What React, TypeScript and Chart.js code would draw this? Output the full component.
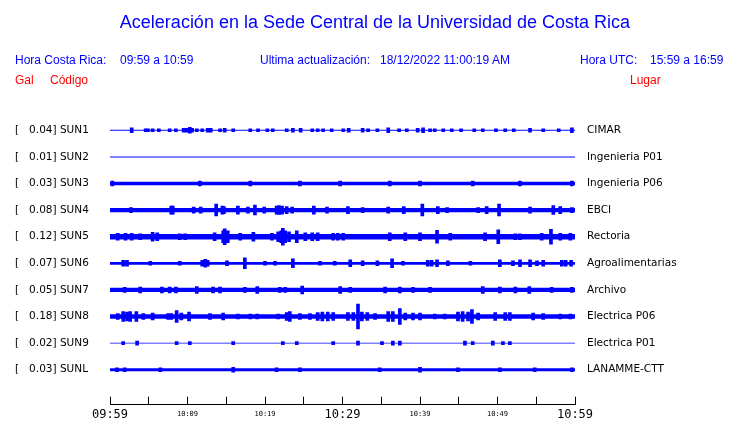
import React, { useEffect, useRef } from "react";
import { Chart, registerables } from "chart.js";

Chart.register(...registerables);

// ---------- data ----------
const codes = ["SUN1", "SUN2", "SUN3", "SUN4", "SUN5", "SUN6", "SUN7", "SUN8", "SUN9", "SUNL"];
const galMax = [0.04, 0.01, 0.03, 0.08, 0.12, 0.07, 0.05, 0.18, 0.02, 0.03];
const places = [
  "CIMAR", "Ingenieria P01", "Ingenieria P06", "EBCI", "Rectoria",
  "Agroalimentarias", "Archivo", "Electrica P06", "Electrica P01", "LANAMME-CTT",
];
const timeLabels = ["09:59", "10:09", "10:19", "10:29", "10:39", "10:49", "10:59"];

// background noise half-amplitude of each trace (display units)
const noiseLevel = [0.5, 0.5, 1.8, 2.2, 2.8, 1.4, 2.1, 2.3, 0.5, 1.5];

// bursts: [minute after 09:59, half-amplitude]
const sun1Bursts = [
  [2.8, 2.5], [4.6, 1.5], [4.9, 1.5], [5.5, 1.5], [6.3, 1.5], [7.7, 1.5], [8.5, 1.5], [9.5, 2],
  [9.9, 2], [10.3, 3], [10.6, 2], [11.2, 1.5], [11.9, 1.5], [12.6, 2], [13.0, 2], [14.2, 1.5],
  [14.8, 2], [15.9, 1.5], [18.1, 1.5], [19.1, 1.5], [20.3, 1.5], [21.0, 1.5], [22.8, 1.5],
  [23.6, 2], [24.6, 2], [26.1, 1.5], [26.8, 1.5], [27.5, 1.5], [28.6, 1.5], [30.1, 1.5],
  [30.8, 2], [32.6, 2], [33.3, 1.5], [34.5, 1.5], [35.9, 2.5], [37.3, 1.5], [38.3, 1.5],
  [39.7, 2], [40.4, 2.5], [41.3, 1.5], [41.9, 1.5], [43.0, 1.5], [44.1, 1.5], [45.3, 1.5],
  [47.0, 1.5], [48.1, 1.5], [49.8, 1.5], [51.0, 1.5], [52.1, 1.5], [54.2, 2], [55.9, 1.5],
  [57.9, 1.5], [59.6, 2.5],
];
const sun2Bursts: number[][] = [];
const sun3Bursts = [
  [0.3, 2.5], [11.6, 2.5], [18.1, 2.5], [24.5, 2.5], [29.7, 2.5], [36.1, 2.5], [40.0, 2.5],
  [46.8, 2.5], [52.9, 2.5], [59.6, 2.5],
];
const sun4Bursts = [
  [2.7, 2.5], [7.9, 4], [8.1, 4], [10.8, 3], [11.7, 3], [13.7, 6], [14.5, 4], [14.7, 3.5],
  [16.5, 4], [17.8, 3], [18.7, 5], [19.9, 3], [21.5, 4], [21.8, 4.5], [22.2, 4], [22.8, 3.5],
  [23.5, 3], [26.3, 4], [28.0, 3], [30.7, 3.5], [32.6, 2.5], [35.9, 3], [37.9, 3.5], [40.3, 6],
  [42.3, 3.5], [43.5, 2.5], [47.5, 2.5], [48.6, 3.5], [50.2, 6], [54.2, 3], [57.2, 4.5],
  [58.1, 3.5], [59.6, 2.5],
];
const sun5Bursts = [
  [1.0, 3.5], [2.0, 3.5], [2.8, 3.5], [3.9, 3], [5.5, 4.5], [6.1, 4], [9.0, 3], [9.7, 3],
  [13.5, 4], [14.6, 6], [14.8, 8], [15.2, 6], [16.8, 3.5], [18.5, 4.5], [20.9, 3.5], [21.7, 5],
  [22.1, 6], [22.3, 8.5], [22.6, 6], [23.1, 5], [24.1, 6], [25.2, 4], [26.1, 4], [26.8, 4],
  [28.8, 3.5], [29.4, 3.5], [30.1, 3.5], [36.1, 4], [38.1, 4], [40.0, 4], [42.2, 6.5],
  [43.9, 3.5], [48.4, 4], [50.1, 7], [52.3, 3], [52.9, 3], [55.7, 3.5], [56.9, 7.5],
  [58.1, 3.5], [59.4, 3.5],
];
const sun6Bursts = [
  [1.7, 3], [2.2, 3], [5.2, 2], [9.0, 2], [11.9, 3], [12.3, 4], [12.6, 3], [15.1, 2.5],
  [17.4, 5.5], [20.0, 2], [21.3, 2], [23.6, 4.5], [27.1, 2], [29.0, 2], [31.0, 3.5], [32.6, 2.5],
  [34.5, 2.5], [36.4, 4.5], [37.8, 2], [41.0, 3], [41.5, 3], [42.2, 3.5], [43.6, 2.5], [46.5, 2],
  [50.3, 3.5], [52.0, 2.5], [52.9, 3.5], [54.2, 3.5], [55.1, 2.5], [55.9, 3], [58.3, 3],
  [58.8, 3], [59.5, 3],
];
const sun7Bursts = [
  [1.9, 2.5], [3.9, 3], [6.7, 3], [7.7, 3], [8.5, 3], [11.2, 3.5], [13.3, 3], [14.2, 3],
  [17.4, 2.5], [19.0, 3.5], [21.9, 2.5], [22.6, 2.5], [24.8, 4], [29.7, 3.5], [31.0, 2.5],
  [35.5, 3], [37.4, 3], [39.1, 2.5], [41.3, 2.5], [48.1, 3.5], [50.3, 3], [52.3, 3], [54.1, 3.5],
  [57.0, 2.5], [59.6, 2.5],
];
const sun8Bursts = [
  [1.0, 3], [1.7, 5], [2.2, 4.5], [2.6, 5], [3.4, 5], [4.3, 3], [5.5, 3.5], [7.5, 3], [7.9, 3],
  [8.6, 6], [9.2, 3.5], [10.2, 4.5], [12.9, 3], [14.6, 3.5], [16.5, 2.5], [18.1, 2.5],
  [19.0, 2.5], [21.7, 2.5], [22.8, 4], [23.2, 5], [24.5, 3], [25.8, 3], [26.8, 4], [27.4, 4.5],
  [28.1, 4.5], [28.8, 4], [30.7, 4], [31.4, 4], [32.0, 12.5], [32.5, 4.5], [33.2, 4], [34.2, 3],
  [35.9, 5], [36.5, 5], [37.4, 8], [38.1, 3.5], [39.1, 3.5], [40.0, 3.5], [41.9, 2.5],
  [43.2, 2.5], [44.9, 4.5], [45.5, 5], [46.2, 4.5], [46.7, 7], [47.5, 3.5], [49.7, 4],
  [51.0, 4], [51.6, 4], [54.6, 3.5], [55.9, 3], [58.1, 2.5], [59.4, 2.5],
];
const sun9Bursts = [
  [1.7, 1.5], [3.5, 2], [8.6, 1.5], [10.3, 1.5], [15.9, 1.5], [22.3, 1.5], [24.1, 1.5],
  [28.8, 1.5], [32.0, 2], [35.1, 1.5], [36.5, 2], [37.4, 2], [45.8, 2], [46.8, 1.5],
  [49.4, 2], [50.7, 1.5], [51.6, 1.5],
];
const sunLBursts = [
  [0.9, 2], [1.9, 2], [6.5, 2], [15.9, 2.5], [21.5, 2], [24.5, 2], [34.8, 2], [40.0, 2.5],
  [44.9, 2], [50.3, 2], [54.8, 2], [59.6, 2],
];
const bursts = [
  sun1Bursts, sun2Bursts, sun3Bursts, sun4Bursts, sun5Bursts,
  sun6Bursts, sun7Bursts, sun8Bursts, sun9Bursts, sunLBursts,
];

// ---------- layout / style ----------
const BLUE = "#0000ff";
const SPACING = 27;
const FIRST = 13.5;
const baseOf = (i: number) => FIRST + SPACING * i;
const Y_MAX = 292;
const leftLabels = codes.map((c, i) => `[   ${galMax[i].toFixed(2)}] ${c}`);

export default function App() {
  const ref = useRef<HTMLCanvasElement | null>(null);

  useEffect(() => {
    if (!ref.current) return;
    const datasets: any[] = [];
    codes.forEach((_, i) => {
      const b = baseOf(i);
      const a = noiseLevel[i];
      datasets.push({
        type: "line",
        data: [{ x: 0, y: b - a }, { x: 60, y: b - a }],
        borderWidth: 0,
        pointRadius: 0,
        fill: false,
        backgroundColor: BLUE,
        borderColor: BLUE,
      });
      datasets.push({
        type: "line",
        data: [{ x: 0, y: b + a }, { x: 60, y: b + a }],
        borderWidth: 0,
        pointRadius: 0,
        fill: "-1",
        backgroundColor: BLUE,
        borderColor: BLUE,
      });
      datasets.push({
        type: "bar",
        stack: "s",
        data: bursts[i].map(([m, amp]) => ({ x: m, y: [b - amp, b + amp] })),
        backgroundColor: BLUE,
        borderWidth: 0,
        barThickness: 3,
      });
    });

    const chart = new Chart(ref.current, {
      type: "bar",
      data: { datasets },
      options: {
        animation: false,
        responsive: false,
        devicePixelRatio: 1,
        layout: { padding: { left: 15, right: 0, top: 117, bottom: 0 } },
        plugins: {
          legend: { display: false },
          tooltip: { enabled: false },
          title: { display: false },
        },
        scales: {
          x: {
            type: "linear",
            min: 0,
            max: 60,
            offset: false,
            stacked: true,
            position: "bottom",
            grid: {
              display: true,
              drawOnChartArea: false,
              drawTicks: true,
              tickLength: -8,
              color: "#000",
              offset: false,
            },
            border: { display: true, color: "#000", width: 1 },
            ticks: {
              stepSize: 5,
              autoSkip: false,
              maxRotation: 0,
              minRotation: 0,
              color: "#000",
              padding: 11,
              font: (ctx: any) =>
                ctx.index % 6 === 0
                  ? { family: "DejaVu Sans Mono", size: 12, lineHeight: 1.2 }
                  : { family: "DejaVu Sans Mono", size: 7, lineHeight: 1.85 },
              callback: (_v: any, idx: number) => (idx % 2 === 0 ? timeLabels[idx / 2] : ""),
            },
            afterFit: (s: any) => {
              s.height = 14;
            },
          },
          y: {
            type: "linear",
            reverse: true,
            min: 0,
            max: Y_MAX,
            stacked: false,
            position: "left",
            grid: { display: false, drawTicks: false },
            border: { display: false },
            afterBuildTicks: (s: any) => {
              s.ticks = codes.map((_, i) => ({ value: baseOf(i) }));
            },
            ticks: {
              crossAlign: "far",
              padding: 0,
              color: "#000",
              font: { family: "DejaVu Sans", size: 10.5 },
              callback: (_v: any, idx: number) => leftLabels[idx],
            },
            afterFit: (s: any) => {
              s.width = 95;
            },
          },
          y2: {
            type: "linear",
            reverse: true,
            min: 0,
            max: Y_MAX,
            position: "right",
            grid: { display: false, drawTicks: false },
            border: { display: false },
            afterBuildTicks: (s: any) => {
              s.ticks = codes.map((_, i) => ({ value: baseOf(i) }));
            },
            ticks: {
              crossAlign: "near",
              padding: 12,
              color: "#000",
              font: { family: "DejaVu Sans", size: 10.5 },
              callback: (_v: any, idx: number) => places[idx],
            },
            afterFit: (s: any) => {
              s.width = 165;
            },
          },
        },
      } as any,
    });
    return () => chart.destroy();
  }, []);

  const txt = (extra: React.CSSProperties): React.CSSProperties => ({
    position: "absolute",
    fontFamily: "'Liberation Sans', Arial, sans-serif",
    fontSize: 12,
    lineHeight: "12px",
    whiteSpace: "pre",
    color: BLUE,
    ...extra,
  });

  return (
    <div style={{ position: "absolute", left: 0, top: 0, width: 740, height: 423, background: "#fff" }}>
      <canvas ref={ref} width={740} height={423} style={{ position: "absolute", left: 0, top: 0 }} />
      <div
        style={{
          position: "absolute",
          left: 0,
          top: 13,
          width: 750,
          textAlign: "center",
          fontFamily: "'Liberation Sans', Arial, sans-serif",
          fontSize: 18,
          lineHeight: "18px",
          color: BLUE,
          whiteSpace: "pre",
        }}
      >
        Aceleración en la Sede Central de la Universidad de Costa Rica
      </div>
      <div style={txt({ left: 15, top: 54 })}>Hora Costa Rica:</div>
      <div style={txt({ left: 120, top: 54 })}>09:59 a 10:59</div>
      <div style={txt({ left: 260, top: 54 })}>Ultima actualización:</div>
      <div style={txt({ left: 380, top: 54 })}>18/12/2022 11:00:19 AM</div>
      <div style={txt({ left: 580, top: 54 })}>Hora UTC:</div>
      <div style={txt({ left: 650, top: 54 })}>15:59 a 16:59</div>
      <div style={txt({ left: 15, top: 74, color: "#ff0000" })}>Gal</div>
      <div style={txt({ left: 50, top: 74, color: "#ff0000" })}>Código</div>
      <div style={txt({ left: 630, top: 74, color: "#ff0000" })}>Lugar</div>
    </div>
  );
}
